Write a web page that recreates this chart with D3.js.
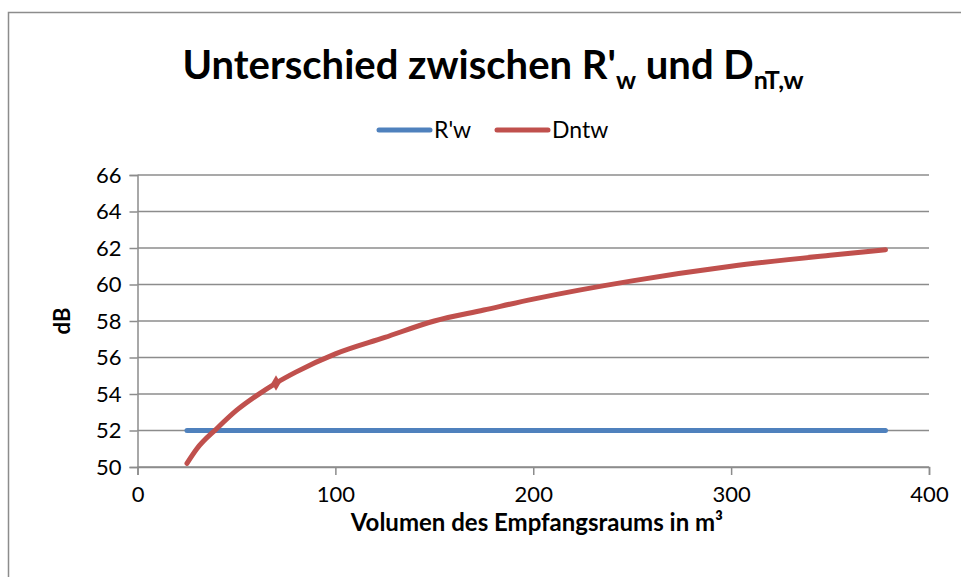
<!DOCTYPE html>
<html>
<head>
<meta charset="utf-8">
<script src="https://cdn.jsdelivr.net/npm/d3@7"></script>
<style>
  body { margin: 0; background: #fff; }
  text { font-family: "Lato", "Open Sans", sans-serif; }
</style>
</head>
<body>
<script>
// volume of receiving room (m³)
const volumes = [25, 30, 40, 50, 60, 70, 80, 100, 125, 150, 175, 200, 250, 300, 350, 378];
// R'w is constant
const rw = [52, 52, 52, 52, 52, 52, 52, 52, 52, 52, 52, 52, 52, 52, 52, 52];
// DnT,w
const dntw = [50.2, 51.0, 52.1, 53.1, 53.9, 54.6, 55.2, 56.2, 57.1, 58.0, 58.6, 59.2, 60.2, 61.0, 61.6, 61.9];
const markedVolume = 70;
const xTicks = [0, 100, 200, 300, 400];
const yTicks = [50, 52, 54, 56, 58, 60, 62, 64, 66];

const width = 961, height = 577;
const grid = "#8c8c8c";

const svg = d3.select("body").append("svg")
  .attr("width", width)
  .attr("height", height);

// chart border
svg.append("rect")
  .attr("x", 8.5).attr("y", 12.5)
  .attr("width", 1000).attr("height", 600)
  .attr("fill", "none")
  .attr("stroke", grid)
  .attr("stroke-width", 1.5);

const x = d3.scaleLinear().domain([0, 400]).range([137.5, 929]);
const y = d3.scaleLinear().domain([50, 66]).range([467, 175]);

// gridlines
svg.append("g")
  .selectAll("line")
  .data(yTicks)
  .enter()
  .append("line")
  .attr("x1", x(0)).attr("x2", x(400))
  .attr("y1", d => y(d)).attr("y2", d => y(d))
  .attr("stroke", grid)
  .attr("stroke-width", 1.5);

// axes
const yAxis = svg.append("g")
  .attr("transform", `translate(${x(0)},0)`)
  .call(d3.axisLeft(y).tickValues(yTicks).tickSize(8).tickPadding(8));

const xAxis = svg.append("g")
  .attr("transform", `translate(0,${y(50)})`)
  .call(d3.axisBottom(x).tickValues(xTicks).tickSize(8).tickPadding(11));

[yAxis, xAxis].forEach(a => {
  a.select(".domain").attr("stroke", grid).attr("stroke-width", 1.5);
  a.selectAll(".tick line").attr("stroke", grid).attr("stroke-width", 1.5);
  a.selectAll(".tick text")
    .attr("font-family", "Lato, 'Open Sans', sans-serif")
    .attr("font-size", "22px")
    .attr("fill", "#000");
});

// series
const line = d3.line()
  .x((d, i) => x(volumes[i]))
  .y(d => y(d))
  .curve(d3.curveMonotoneX);

svg.append("path")
  .datum(rw)
  .attr("d", line)
  .attr("fill", "none")
  .attr("stroke", "#4F81BD")
  .attr("stroke-width", 5)
  .attr("stroke-linecap", "round");

svg.append("path")
  .datum(dntw)
  .attr("d", line)
  .attr("fill", "none")
  .attr("stroke", "#C0504D")
  .attr("stroke-width", 5)
  .attr("stroke-linecap", "round");

const mi = volumes.indexOf(markedVolume);
svg.append("path")
  .attr("d", d3.symbol().type(d3.symbolDiamond).size(70)())
  .attr("transform", `translate(${x(volumes[mi])},${y(dntw[mi])})`)
  .attr("fill", "#C0504D");

// title
const title = svg.append("text")
  .attr("x", 493)
  .attr("y", 79)
  .attr("text-anchor", "middle")
  .attr("font-size", "40px")
  .attr("font-weight", "bold")
  .attr("fill", "#000");
title.append("tspan").text("Unterschied zwischen R'");
title.append("tspan").attr("font-size", "25px").attr("dy", 10).text("w");
title.append("tspan").attr("dy", -10).text(" und D");
title.append("tspan").attr("font-size", "25px").attr("dy", 10).text("nT,w");

// legend
const legend = [
  { name: "R'w", color: "#4F81BD", x0: 379 },
  { name: "Dntw", color: "#C0504D", x0: 497 }
];
legend.forEach(l => {
  svg.append("line")
    .attr("x1", l.x0).attr("x2", l.x0 + 51)
    .attr("y1", 130).attr("y2", 130)
    .attr("stroke", l.color)
    .attr("stroke-width", 5)
    .attr("stroke-linecap", "round");
  svg.append("text")
    .attr("x", l.x0 + 55)
    .attr("y", 138)
    .attr("font-size", "23px")
    .attr("fill", "#000")
    .text(l.name);
});

// axis titles
svg.append("text")
  .attr("transform", "translate(70,321) rotate(-90)")
  .attr("text-anchor", "middle")
  .attr("font-size", "22px")
  .attr("font-weight", "bold")
  .attr("fill", "#000")
  .text("dB");

svg.append("text")
  .attr("x", 537)
  .attr("y", 531)
  .attr("text-anchor", "middle")
  .attr("font-size", "24px")
  .attr("font-weight", "bold")
  .attr("fill", "#000")
  .text("Volumen des Empfangsraums in m³");
</script>
</body>
</html>
